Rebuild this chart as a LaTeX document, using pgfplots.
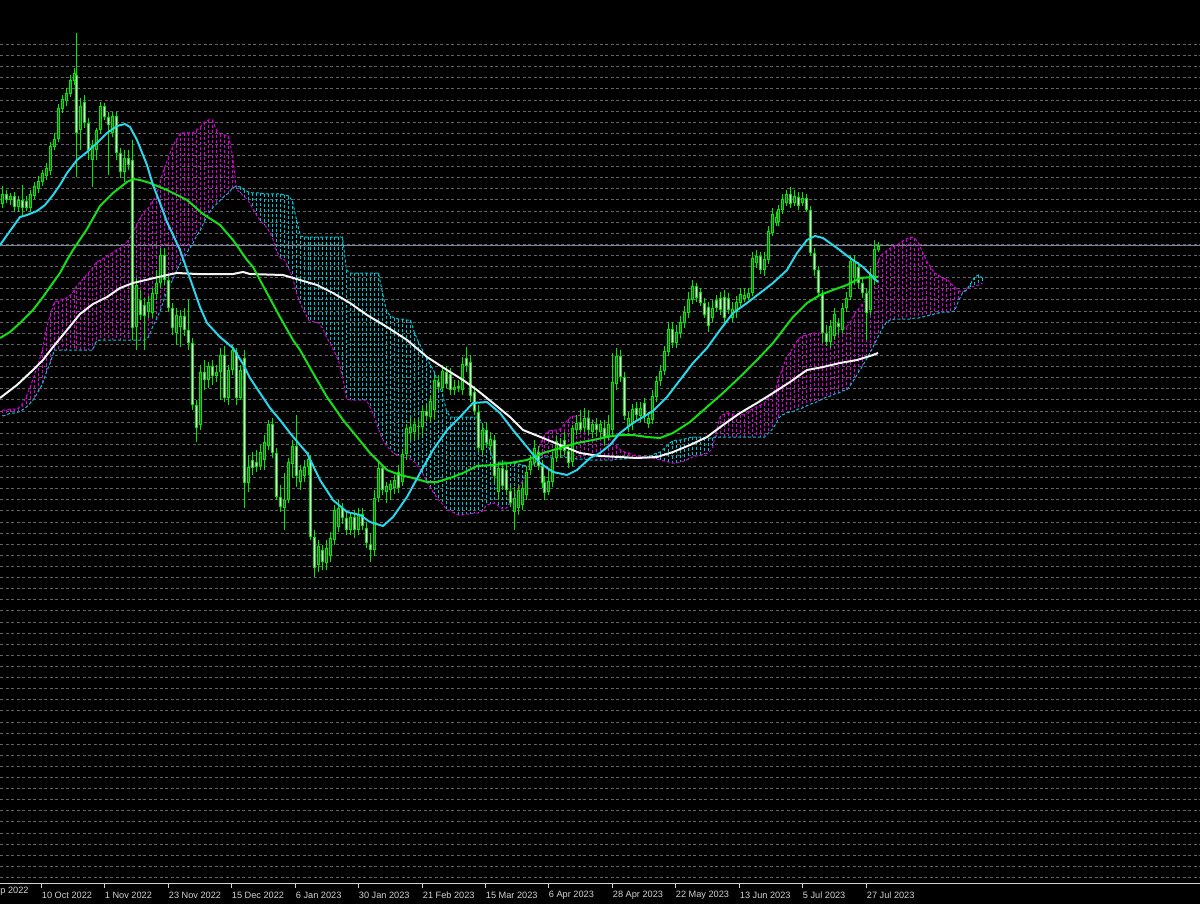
\documentclass[border=0pt]{standalone}
\usepackage{fontspec}
\setmainfont{Liberation Sans}
\usepackage{pgfplots}
\pgfplotsset{compat=1.18}
\usepackage{pgfplotstable}

\definecolor{wick}{RGB}{0,235,0}
\definecolor{bullfill}{RGB}{0,110,0}
\definecolor{bearfill}{RGB}{235,255,235}
\definecolor{macyan}{RGB}{40,215,235}
\definecolor{magreen}{RGB}{20,225,20}
\definecolor{mawhite}{RGB}{245,245,245}
\definecolor{cmag}{RGB}{215,0,215}
\definecolor{ccyan}{RGB}{0,195,210}
\definecolor{gridc}{RGB}{100,100,100}
\definecolor{pline}{RGB}{119,136,153}
\definecolor{axc}{RGB}{210,210,210}

\pgfplotstableread{
i o h l c
-10 204 186 208 194
-9 194 190 203 200
-8 200 193 205 196
-7 196 192 212 207
-6 207 196 212 200
-5 200 185 215 208
-4 201 196 211 208
-3 208 190 212 194
-2 196 182 199 186
-1 189 176 193 181
0 182 170 186 173
1 176 163 180 168
2 171 142 175 146
3 147 133 150 139
4 139 104 142 108
5 109 95 113 99
6 101 88 106 93
7 94 75 97 80
8 81 68 85 73
9 75 33 177 133
10 130 98 150 106
11 102 95 128 123
12 123 118 160 150
13 160 140 187 145
14 150 128 160 130
15 130 102 134 106
16 106 103 120 117
17 117 112 175 125
18 133 112 137 116
19 116 112 160 153
20 153 148 178 172
21 172 150 182 158
22 158 150 170 165
23 160 140 340 328
24 327 278 350 285
25 300 290 320 315
26 305 298 350 316
27 312 296 318 302
28 313 288 318 293
29 294 270 300 283
30 283 248 288 255
31 255 248 285 280
32 280 275 312 308
33 308 303 335 328
34 333 308 345 315
35 327 310 347 316
36 316 308 336 330
37 330 300 350 343
38 343 338 410 405
39 405 400 442 428
40 425 365 430 372
41 372 360 390 380
42 380 362 388 366
43 366 360 385 376
44 376 365 382 372
45 372 348 400 355
46 355 346 402 398
47 398 365 405 370
48 370 345 375 350
49 352 348 405 398
50 398 365 400 370
51 358 350 508 483
52 483 455 492 467
53 460 452 475 468
54 462 450 472 467
55 466 445 470 452
56 460 435 470 442
57 446 420 450 424
58 424 418 458 453
59 453 448 500 497
60 497 485 512 507
61 508 473 530 500
62 500 458 503 462
63 464 440 478 446
64 446 415 487 476
65 482 465 490 470
66 476 460 482 467
67 467 452 475 459
68 460 455 540 537
69 537 530 577 568
70 565 540 572 546
71 550 545 570 562
72 563 540 570 548
73 556 532 562 538
74 540 505 545 510
75 527 500 532 508
76 508 503 524 518
77 518 512 535 530
78 530 512 535 517
79 517 510 538 530
80 530 508 535 514
81 514 508 530 526
82 528 522 548 543
83 544 533 562 550
84 550 490 556 498
85 498 462 502 468
86 468 465 495 490
87 492 482 503 486
88 490 480 500 484
89 488 475 494 480
90 472 465 493 488
91 482 450 486 454
92 454 424 460 428
93 433 418 440 427
94 432 418 440 424
95 426 420 438 427
96 427 405 435 411
97 411 405 420 416
98 417 395 422 401
99 410 375 420 380
100 382 375 390 387
101 388 365 392 371
102 372 366 388 384
103 374 368 395 390
104 390 380 395 387
105 388 380 392 386
106 390 357 395 364
107 358 347 372 366
108 362 355 402 396
109 392 386 415 411
110 412 405 452 448
111 450 425 455 430
112 430 422 448 443
113 446 432 452 439
114 440 435 482 476
115 492 462 500 468
116 468 460 490 486
117 470 465 495 490
118 491 486 507 503
119 512 487 530 498
120 508 484 515 490
121 505 482 510 488
122 495 466 500 472
123 470 455 475 461
124 463 440 466 448
125 452 446 470 466
126 466 460 488 483
127 482 476 500 493
128 492 470 495 481
129 482 452 487 458
130 458 436 462 441
131 445 438 458 450
132 440 432 455 451
133 451 445 468 463
134 462 425 466 428
135 430 415 435 423
136 422 410 432 430
137 428 408 432 418
138 418 410 435 430
139 432 420 438 424
140 424 418 436 430
141 432 420 438 424
142 428 420 445 437
143 436 415 440 424
144 430 353 436 382
145 384 348 390 356
146 356 350 382 377
147 377 372 420 416
148 427 412 432 418
149 424 404 430 409
150 408 402 420 415
151 416 402 422 408
152 403 398 422 417
153 424 412 428 418
154 420 390 424 396
155 397 376 402 381
156 381 365 386 371
157 371 346 375 351
158 352 322 356 329
159 329 322 348 343
160 343 325 348 332
161 333 316 338 322
162 323 306 328 312
163 313 292 318 299
164 300 280 304 286
165 286 283 302 298
166 292 288 306 303
167 303 298 318 315
168 307 302 332 326
169 318 300 322 308
170 300 295 312 308
171 298 292 315 310
172 297 290 325 318
173 298 293 314 310
174 318 302 322 309
175 312 296 318 302
176 303 288 306 294
177 299 288 302 295
178 298 288 300 293
179 293 252 296 258
180 263 250 268 256
181 256 252 274 270
182 270 252 276 259
183 260 226 264 231
184 233 208 236 214
185 223 212 226 217
186 222 205 226 209
187 210 194 214 199
188 203 190 206 194
189 194 187 208 204
190 203 190 206 196
191 197 192 210 206
192 203 192 206 198
193 198 194 212 210
194 210 206 256 253
195 253 248 276 270
196 270 266 297 293
197 293 290 343 333
198 333 325 346 342
199 342 320 348 326
200 336 308 340 314
201 323 318 335 327
202 330 303 333 308
203 308 292 312 298
204 297 255 300 261
205 278 255 285 261
206 267 262 288 283
207 283 278 298 293
208 293 288 340 313
209 310 268 315 274
210 280 240 285 249
211 250 242 252 246
}\candles

\pgfplotstableread{
i m c
-10 410 416
-9 410 415
-8 409 413
-7 409 413
-6 408 412
-5 404 410
-4 396 407
-3 386 403
-2 375 398
-1 363 391
0 350 384
1 328 372
2 314 362
3 302 350
4 301 350
5 299 350
6 298 350
7 295 350
8 290 350
9 286 350
10 282 350
11 277 350
12 273 350
13 268 350
14 262 341
15 260 340
16 258 340
17 255 340
18 253 340
19 250 340
20 248 340
21 245 340
22 240 340
23 234 340
24 225 340
25 217 340
26 212 340
27 208 337
28 201 327
29 196 319
30 180 310
31 168 298
32 157 288
33 147 280
34 140 271
35 133 263
36 133 257
37 133 250
38 133 244
39 130 236
40 127 230
41 122 221
42 120 214
43 120 208
44 130 204
45 134 200
46 135 196
47 136 193
48 155 188
49 189 186
50 193 187
51 197 190
52 201 192
53 208 193
54 215 193
55 221 193
56 225 194
57 230 194
58 238 194
59 251 194
60 258 194
61 260 195
62 268 196
63 277 201
64 293 220
65 304 236
66 312 237
67 320 237
68 321 237
69 322 237
70 323 237
71 328 237
72 337 237
73 344 237
74 352 237
75 361 237
76 376 237
77 398 270
78 400 273
79 400 273
80 400 273
81 400 273
82 400 273
83 408 273
84 417 273
85 429 273
86 439 293
87 446 311
88 450 316
89 454 318
90 455 319
91 457 319
92 458 320
93 459 320
94 462 333
95 467 342
96 473 350
97 481 358
98 488 365
99 494 372
100 500 385
101 504 394
102 509 411
103 511 417
104 513 417
105 515 417
106 515 417
107 514 417
108 514 417
109 513 417
110 513 417
111 511 424
112 505 440
113 504 452
114 503 462
115 506 462
116 509 462
117 508 462
118 502 463
119 497 463
120 489 464
121 481 465
122 474 466
123 466 466
124 459 463
125 449 460
126 439 457
127 435 457
128 431 457
129 430 457
130 430 457
131 429 457
132 424 457
133 419 458
134 416 458
135 416 459
136 415 459
137 417 459
138 418 460
139 420 460
140 424 460
141 428 460
142 433 460
143 438 460
144 442 460
145 446 459
146 450 459
147 452 459
148 453 458
149 455 458
150 456 458
151 456 457
152 457 457
153 458 457
154 458 455
155 459 453
156 460 452
157 461 448
158 462 444
159 463 441
160 463 440
161 462 440
162 461 439
163 459 438
164 457 437
165 456 437
166 455 437
167 454 438
168 453 438
169 448 438
170 430 437
171 416 437
172 414 437
173 413 437
174 414 437
175 414 437
176 415 437
177 414 437
178 411 437
179 409 437
180 407 437
181 405 437
182 403 437
183 398 433
184 394 429
185 387 423
186 379 418
187 369 415
188 357 413
189 352 412
190 345 411
191 339 409
192 336 408
193 335 406
194 334 404
195 333 403
196 333 401
197 333 399
198 333 397
199 332 396
200 331 394
201 330 393
202 329 391
203 327 390
204 322 385
205 314 379
206 309 372
207 304 366
208 299 359
209 285 352
210 271 344
211 260 336
212 254 328
213 251 322
214 248 320
215 246 319
216 244 319
217 241 319
218 239 319
219 237 319
220 238 318
221 243 318
222 252 317
223 261 316
224 267 315
225 273 314
226 275 313
227 278 312
228 279 312
229 283 312
230 287 311
231 291 301
232 292 293
233 289 290
234 287 284
235 286 277
236 285 275
237 283 278
}\cloud

\begin{document}
\begin{tikzpicture}
\fill[black] (0,0) rectangle (600pt,452pt);
\begin{axis}[
  at={(0pt,10pt)}, anchor=south west,
  scale only axis, width=600pt, height=442pt,
  xmin=0, xmax=1200, ymin=0, ymax=884, y dir=reverse,
  axis line style={draw=none},
  clip=false, unbounded coords=discard,
  xtick={41.5,104.5,168.5,231.5,295.5,358.5,422.5,485.5,548.5,612.5,675.5,739.5,802.5,866.5},
  xticklabels={10 Oct 2022,1 Nov 2022,23 Nov 2022,15 Dec 2022,6 Jan 2023,30 Jan 2023,21 Feb 2023,15 Mar 2023,6 Apr 2023,28 Apr 2023,22 May 2023,13 Jun 2023,5 Jul 2023,27 Jul 2023},
  xtick pos=left, xticklabel pos=left,
  tick align=outside, major tick length=2pt,
  x tick style={draw=axc, line width=0.5pt},
  xticklabel style={anchor=west, inner sep=0pt, yshift=-3.6pt, font=\fontsize{4.6pt}{5.5pt}\selectfont, text=axc},
  ytick={44.5,55.5,66.5,77.5,88.5,100.5,111.5,122.5,133.5,144.5,155.5,166.5,177.5,188.5,199.5,211.5,222.5,233.5,244.5,255.5,266.5,277.5,288.5,299.5,311.5,322.5,333.5,344.5,355.5,366.5,377.5,388.5,399.5,411.5,422.5,433.5,444.5,455.5,466.5,477.5,488.5,499.5,510.5,522.5,533.5,544.5,555.5,566.5,577.5,588.5,599.5,610.5,622.5,633.5,644.5,655.5,666.5,677.5,688.5,699.5,710.5,722.5,733.5,744.5,755.5,766.5,777.5,788.5,799.5,810.5,821.5,833.5,844.5,855.5,866.5,877.5},
  yticklabels={},
  ymajorgrids, major grid style={gridc, line width=0.5pt, dash pattern=on 1.5pt off 1.25pt},
]
% current price line
\addplot[pline, line width=0.5pt] coordinates {(0,245.5) (1200,245.5)};

% Ichimoku cloud: one dotted column per bar, drawn downward from the upper span
\addplot[draw=none, mark=none, error bars/.cd, y dir=plus, y explicit, error mark=none,
  error bar style={color=cmag, line width=0.5pt, dash pattern=on 1.5pt off 1pt}]
  table[x expr={2*floor((41.3+3.966*\thisrow{i})/2+0.5)+0.5}, y expr={(\thisrow{c}>\thisrow{m}) ? \thisrow{m} : nan}, y error expr={abs(\thisrow{c}-\thisrow{m})}] {\cloud};
\addplot[draw=none, mark=none, error bars/.cd, y dir=plus, y explicit, error mark=none,
  error bar style={color=ccyan, line width=0.5pt, dash pattern=on 1.5pt off 1pt}]
  table[x expr={2*floor((41.3+3.966*\thisrow{i})/2+0.5)+0.5}, y expr={(\thisrow{m}>\thisrow{c}) ? \thisrow{c} : nan}, y error expr={abs(\thisrow{m}-\thisrow{c})}] {\cloud};
\addplot[cmag, line width=0.5pt, dash pattern=on 1.5pt off 1pt] table[x expr={2*floor((41.3+3.966*\thisrow{i})/2+0.5)+0.5}, y=m] {\cloud};
\addplot[ccyan, line width=0.5pt, dash pattern=on 1.5pt off 1pt] table[x expr={2*floor((41.3+3.966*\thisrow{i})/2+0.5)+0.5}, y=c] {\cloud};

% candles: wicks
\addplot[draw=none, mark=none, error bars/.cd, y dir=plus, y explicit, error mark=none,
  error bar style={color=wick, line width=0.5pt}]
  table[x expr={2*floor((41.3+3.966*\thisrow{i})/2+0.5)+0.5}, y=h, y error expr={\thisrow{l}-\thisrow{h}}] {\candles};
% bodies outline
\addplot[draw=none, mark=none, error bars/.cd, y dir=plus, y explicit, error mark=none,
  error bar style={color=wick, line width=1.5pt}]
  table[x expr={2*floor((41.3+3.966*\thisrow{i})/2+0.5)+0.5}, y expr={min(\thisrow{o},\thisrow{c})}, y error expr={max(abs(\thisrow{o}-\thisrow{c}),1)}] {\candles};
% bull fill
\addplot[draw=none, mark=none, error bars/.cd, y dir=plus, y explicit, error mark=none,
  error bar style={color=bullfill, line width=0.5pt}]
  table[x expr={2*floor((41.3+3.966*\thisrow{i})/2+0.5)+0.5}, y expr={(\thisrow{o}-\thisrow{c}>2) ? \thisrow{c}+1 : nan}, y error expr={abs(\thisrow{o}-\thisrow{c})-2}] {\candles};
% bear fill
\addplot[draw=none, mark=none, error bars/.cd, y dir=plus, y explicit, error mark=none,
  error bar style={color=bearfill, line width=0.5pt}]
  table[x expr={2*floor((41.3+3.966*\thisrow{i})/2+0.5)+0.5}, y expr={(\thisrow{c}-\thisrow{o}>2) ? \thisrow{o}+1 : nan}, y error expr={abs(\thisrow{c}-\thisrow{o})-2}] {\candles};

% moving averages
\addplot[mawhite, line width=1pt, line join=round] coordinates {
(0,398) (17,385) (33,370) (43,360) (53,347) (67,330) (80,314) (93,304) (107,297) (120,288) (133,283) (150,279) (167,275) (177,273) (197,274) (233,274) (243,272) (250,274) (283,275) (300,280) (317,285) (333,293) (350,303) (367,315) (387,327) (407,340) (427,357) (447,370) (463,380) (477,390) (493,403) (510,417) (523,430) (543,438) (560,445) (580,453) (600,456) (620,457) (637,458) (657,457) (673,452) (690,445) (707,437) (723,425) (740,413) (757,403) (773,393) (790,382) (807,370) (823,367) (840,363) (857,360) (873,355) (878,353)};
\addplot[magreen, line width=1pt, line join=round] coordinates {
(0,338) (10,332) (20,323) (33,310) (43,297) (50,287) (60,273) (67,260) (73,250) (87,229) (100,206) (113,193) (127,182) (133,179) (140,180) (150,183) (167,190) (187,200) (203,214) (220,225) (233,240) (247,260) (253,267) (267,293) (280,317) (293,340) (300,350) (313,373) (327,397) (343,420) (357,437) (370,453) (380,463) (387,470) (400,475) (413,478) (427,482) (437,482) (450,478) (463,473) (477,466) (493,465) (510,463) (527,460) (543,453) (560,448) (577,443) (593,440) (607,437) (620,435) (633,435) (647,437) (660,438) (673,433) (690,422) (707,407) (723,393) (740,377) (757,360) (773,343) (783,330) (793,317) (807,303) (820,295) (833,290) (847,285) (860,278) (873,277) (878,277)};
\addplot[macyan, line width=1pt, line join=round] coordinates {
(0,245) (10,231) (20,217) (27,215) (37,211) (45,205) (53,195) (60,185) (67,173) (77,160) (87,152) (97,143) (107,133) (117,126) (125,124) (130,127) (137,140) (147,165) (153,185) (160,203) (167,222) (180,250) (193,287) (200,307) (207,323) (220,337) (233,348) (243,364) (250,378) (260,393) (270,408) (280,420) (290,433) (300,445) (307,453) (320,480) (333,500) (347,512) (360,515) (370,522) (383,526) (393,517) (407,497) (420,473) (433,450) (447,430) (460,417) (473,403) (487,402) (500,413) (513,430) (527,447) (540,463) (553,472) (567,475) (577,470) (590,458) (600,453) (610,445) (620,433) (633,423) (643,417) (653,411) (667,397) (680,380) (693,363) (707,348) (720,330) (733,313) (747,303) (760,293) (773,283) (787,270) (797,253) (807,240) (815,236) (823,238) (837,248) (850,258) (863,267) (873,277) (878,282)};

% time axis line and the label cut off at the left edge
\draw[axc, line width=0.5pt] (axis cs:0,883.5) -- (axis cs:1200,883.5);
\node[anchor=west, inner sep=0pt, yshift=-3.6pt, font=\fontsize{4.6pt}{5.5pt}\selectfont, text=axc] at (axis cs:-24,884) {16 Sep 2022};
\end{axis}
\pgfresetboundingbox
\path[use as bounding box] (0,0) rectangle (600pt,452pt);
\end{tikzpicture}
\end{document}
